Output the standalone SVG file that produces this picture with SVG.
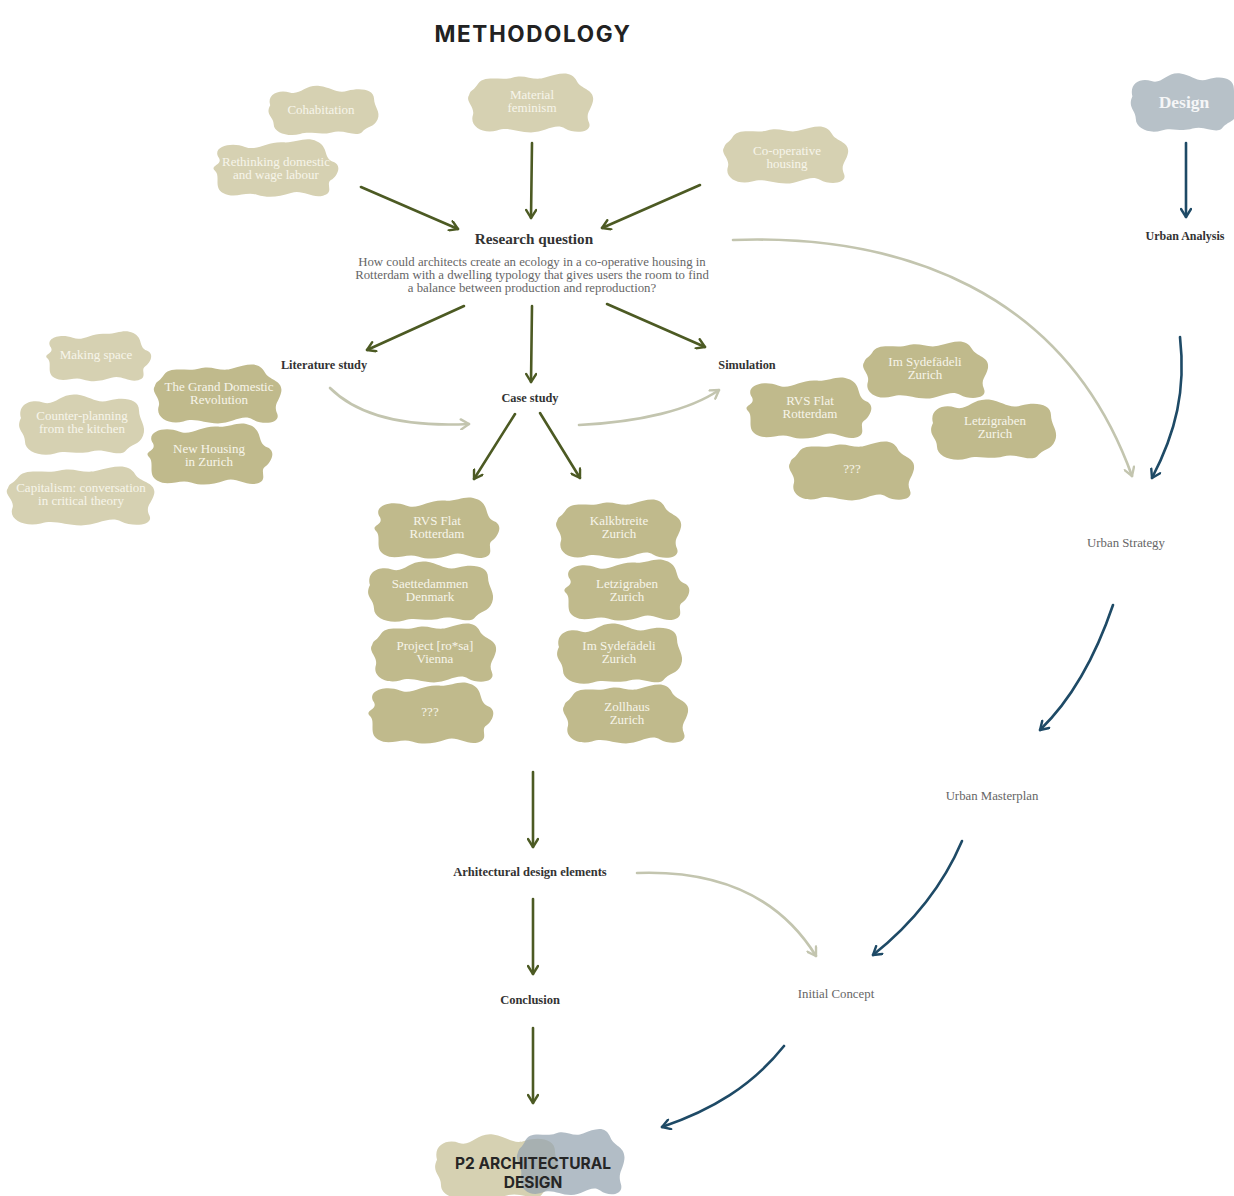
<svg xmlns="http://www.w3.org/2000/svg" xmlns:xlink="http://www.w3.org/1999/xlink" width="1234" height="1196" viewBox="0 0 1234 1196">
<style>
.light{fill:#d6d1b2}
.dark{fill:#c0ba8c}
.ct{font-family:"Liberation Serif","DejaVu Serif",serif;font-size:13px;fill:#f7f5ea;text-anchor:middle}
.lbl{font-family:"Liberation Serif","DejaVu Serif",serif;font-weight:bold;fill:#333;text-anchor:middle}
.reg{font-family:"Liberation Serif","DejaVu Serif",serif;font-size:12.8px;fill:#666;text-anchor:middle}
.olive{fill:none;stroke:#4c5a23;stroke-width:2.6;stroke-linecap:round;marker-end:url(#mOlive)}
.pale{fill:none;stroke:#c3c5af;stroke-width:2.6;stroke-linecap:round;marker-end:url(#mPale)}
.blue{fill:none;stroke:#1e4a66;stroke-width:2.6;stroke-linecap:round;marker-end:url(#mBlue)}
</style>
<defs>
<marker id="mOlive" viewBox="0 0 12 12" refX="10" refY="6" markerWidth="12" markerHeight="12" markerUnits="userSpaceOnUse" orient="auto"><path d="M2,1 L10,6 L2,11" fill="none" stroke="#4c5a23" stroke-width="2.4" stroke-linecap="round" stroke-linejoin="round"/></marker>
<marker id="mPale" viewBox="0 0 12 12" refX="10" refY="6" markerWidth="12" markerHeight="12" markerUnits="userSpaceOnUse" orient="auto"><path d="M2,1 L10,6 L2,11" fill="none" stroke="#c3c5af" stroke-width="2.4" stroke-linecap="round" stroke-linejoin="round"/></marker>
<marker id="mBlue" viewBox="0 0 12 12" refX="10" refY="6" markerWidth="12" markerHeight="12" markerUnits="userSpaceOnUse" orient="auto"><path d="M2,1 L10,6 L2,11" fill="none" stroke="#1e4a66" stroke-width="2.4" stroke-linecap="round" stroke-linejoin="round"/></marker>
<path id="blobA" d="M-56,-12 C-64,-24 -44,-30 -30,-24 C-18,-19 -8,-30 8,-29 C22,-28 30,-36 42,-30 C54,-24 48,-12 58,-8 C68,-4 62,8 56,12 C50,16 60,26 48,29 C36,32 28,22 16,26 C4,30 -6,32 -18,28 C-30,24 -40,33 -52,26 C-62,20 -54,8 -60,2 C-66,-4 -52,-4 -56,-12 Z"/>
<path id="blobB" d="M-60,-6 C-64,-20 -50,-26 -38,-22 C-26,-18 -20,-32 -4,-30 C10,-28 16,-20 28,-24 C42,-28 58,-26 58,-14 C58,-4 66,2 62,12 C58,22 50,20 44,28 C36,34 24,24 10,28 C-4,32 -14,26 -26,30 C-40,34 -56,28 -56,18 C-56,8 -66,6 -60,-6 Z"/>
<path id="blobC" d="M-54,-18 C-48,-30 -30,-22 -18,-26 C-6,-30 2,-22 14,-26 C28,-30 40,-34 46,-22 C50,-14 64,-14 62,-2 C60,8 54,10 58,20 C62,30 44,32 34,26 C24,20 14,30 0,30 C-14,30 -22,24 -34,28 C-48,32 -62,24 -58,12 C-56,4 -66,-2 -62,-8 C-60,-14 -58,-12 -54,-18 Z"/>
</defs>
<rect width="1234" height="1196" fill="#ffffff"/>

<text id="title" x="533" y="42" font-family="Inter,'Open Sans',sans-serif" font-weight="700" font-size="22.5" letter-spacing="1.6" fill="#222" text-anchor="middle">METHODOLOGY</text>

<g id="connectors">
<path class="olive" d="M361,187 L458,229"/>
<path class="olive" d="M532,143 L531,218"/>
<path class="olive" d="M700,185 L602,228"/>
<path class="blue" d="M1186,143 L1186,217"/>
<path class="pale" d="M733,240 C900,234 1065,290 1132,476"/>
<path class="olive" d="M464,306 L367,350"/>
<path class="olive" d="M532,306 L531,382"/>
<path class="olive" d="M607,304 L705,347"/>
<path class="pale" d="M330,388 C360,418 410,427 469,424"/>
<path class="pale" d="M579,425 C640,422 690,410 719,390"/>
<path class="olive" d="M515,414 L474,479"/>
<path class="olive" d="M540,413 L580,478"/>
<path class="blue" d="M1180,337 C1186,390 1176,432 1152,478"/>
<path class="blue" d="M1113,605 C1096,655 1074,697 1040,730"/>
<path class="blue" d="M962,841 C942,888 912,924 873,955"/>
<path class="olive" d="M533,772 L533,847"/>
<path class="olive" d="M533,899 L533,974"/>
<path class="olive" d="M533,1028 L533,1103"/>
<path class="pale" d="M637,873 C720,870 780,898 816,956"/>
<path class="blue" d="M784,1046 C752,1086 712,1110 662,1127"/>
</g>

<g id="cohabitation"><use xlink:href="#blobB" class="light" transform="translate(323,110) scale(0.88,0.8)"/><text class="ct" x="321" y="114">Cohabitation</text></g>
<g id="rethinking"><use xlink:href="#blobA" class="light" transform="translate(275,169) scale(1,0.92)"/><text class="ct" x="276" y="165.5">Rethinking domestic</text><text class="ct" x="276" y="178.5">and wage labour</text></g>
<g id="material-feminism"><use xlink:href="#blobC" class="light" transform="translate(531,103) scale(1,0.98)"/><text class="ct" x="532" y="98.5">Material</text><text class="ct" x="532" y="111.5">feminism</text></g>
<g id="cooperative-housing"><use xlink:href="#blobC" class="light" transform="translate(786,155) scale(1,0.95)"/><text class="ct" x="787" y="155">Co-operative</text><text class="ct" x="787" y="168">housing</text></g>
<g id="design"><use xlink:href="#blobB" fill="#b7c1c8" transform="translate(1184,102) scale(0.86,0.95)"/><text x="1184" y="108" font-family="'Liberation Serif','DejaVu Serif',serif" font-size="17.5" font-weight="bold" fill="#f5f6f7" text-anchor="middle">Design</text></g>

<g id="research-question"><text class="lbl" x="534" y="244" font-size="15.2">Research question</text>
<text class="reg" font-size="13.5" fill="#555"><tspan x="532" y="266">How could architects create an ecology in a co-operative housing in</tspan><tspan x="532" y="279">Rotterdam with a dwelling typology that gives users the room to find</tspan><tspan x="532" y="292">a balance between production and reproduction?</tspan></text></g>
<g id="urban-analysis"><text class="lbl" x="1185" y="240" font-size="12">Urban Analysis</text></g>

<g id="literature-study"><text class="lbl" x="324" y="369" font-size="12.3">Literature study</text></g>
<g id="case-study"><text class="lbl" x="530" y="402" font-size="12.3">Case study</text></g>
<g id="simulation"><text class="lbl" x="747" y="369" font-size="12.3">Simulation</text></g>

<g id="making-space"><use xlink:href="#blobA" class="light" transform="translate(98,357) scale(0.84,0.8)"/><text class="ct" x="96" y="359">Making space</text></g>
<g id="grand-domestic"><use xlink:href="#blobC" class="dark" transform="translate(218,394) scale(1.02,0.98)"/><text class="ct" x="219" y="390.5">The Grand Domestic</text><text class="ct" x="219" y="403.5">Revolution</text></g>
<g id="counter-planning"><use xlink:href="#blobB" class="light" transform="translate(81,424) scale(1,0.98)"/><text class="ct" x="82" y="420">Counter-planning</text><text class="ct" x="82" y="433">from the kitchen</text></g>
<g id="new-housing"><use xlink:href="#blobA" class="dark" transform="translate(209,455) scale(1,0.98)"/><text class="ct" x="209" y="452.5">New Housing</text><text class="ct" x="209" y="465.5">in Zurich</text></g>
<g id="capitalism"><use xlink:href="#blobC" class="light" transform="translate(81,496) scale(1.18,0.98)"/><text class="ct" x="81" y="491.5">Capitalism: conversation</text><text class="ct" x="81" y="504.5">in critical theory</text></g>

<g id="sim-sydefadeli"><use xlink:href="#blobC" class="dark" transform="translate(926,370) scale(1,0.95)"/><text class="ct" x="925" y="366">Im Sydefädeli</text><text class="ct" x="925" y="379">Zurich</text></g>
<g id="sim-rvs"><use xlink:href="#blobA" class="dark" transform="translate(808,409) scale(1,0.98)"/><text class="ct" x="810" y="404.5">RVS Flat</text><text class="ct" x="810" y="417.5">Rotterdam</text></g>
<g id="sim-letzigraben"><use xlink:href="#blobB" class="dark" transform="translate(993,429) scale(1,0.98)"/><text class="ct" x="995" y="425">Letzigraben</text><text class="ct" x="995" y="438">Zurich</text></g>
<g id="sim-unknown"><use xlink:href="#blobC" class="dark" transform="translate(852,471) scale(1,0.98)"/><text class="ct" x="852" y="473">???</text></g>

<g id="cs-rvs"><use xlink:href="#blobA" class="dark" transform="translate(436,529) scale(1,0.98)"/><text class="ct" x="437" y="525">RVS Flat</text><text class="ct" x="437" y="538">Rotterdam</text></g>
<g id="cs-saettedammen"><use xlink:href="#blobB" class="dark" transform="translate(430,591) scale(1,0.98)"/><text class="ct" x="430" y="588">Saettedammen</text><text class="ct" x="430" y="601">Denmark</text></g>
<g id="cs-rosa"><use xlink:href="#blobC" class="dark" transform="translate(434,653) scale(1,0.98)"/><text class="ct" x="435" y="650">Project [ro*sa]</text><text class="ct" x="435" y="663">Vienna</text></g>
<g id="cs-unknown"><use xlink:href="#blobA" class="dark" transform="translate(430,714) scale(1,0.98)"/><text class="ct" x="430" y="716">???</text></g>
<g id="cs-kalkbreite"><use xlink:href="#blobC" class="dark" transform="translate(619,529) scale(1,0.98)"/><text class="ct" x="619" y="525">Kalkbtreite</text><text class="ct" x="619" y="538">Zurich</text></g>
<g id="cs-letzigraben"><use xlink:href="#blobA" class="dark" transform="translate(626,591) scale(1,0.98)"/><text class="ct" x="627" y="588">Letzigraben</text><text class="ct" x="627" y="601">Zurich</text></g>
<g id="cs-sydefadeli"><use xlink:href="#blobB" class="dark" transform="translate(619,653) scale(1,0.98)"/><text class="ct" x="619" y="650">Im Sydefädeli</text><text class="ct" x="619" y="663">Zurich</text></g>
<g id="cs-zollhaus"><use xlink:href="#blobC" class="dark" transform="translate(626,714) scale(1,0.98)"/><text class="ct" x="627" y="711">Zollhaus</text><text class="ct" x="627" y="724">Zurich</text></g>

<g id="urban-strategy"><text class="reg" x="1126" y="547">Urban Strategy</text></g>
<g id="urban-masterplan"><text class="reg" x="992" y="800">Urban Masterplan</text></g>
<g id="design-elements"><text class="lbl" x="530" y="876" font-size="12.5">Arhitectural design elements</text></g>
<g id="conclusion"><text class="lbl" x="530" y="1004" font-size="12.5">Conclusion</text></g>
<g id="initial-concept"><text class="reg" x="836" y="998">Initial Concept</text></g>

<g id="p2-design">
<use xlink:href="#blobB" class="light" transform="translate(497,1166) scale(1,1.05)"/>
<use xlink:href="#blobC" fill="#94a4b0" fill-opacity="0.72" transform="translate(571,1162) scale(0.86,1.1)"/>
<text x="533" y="1169" font-family="Inter,'Open Sans',sans-serif" font-weight="700" font-size="15.5" fill="#262626" text-anchor="middle">P2 ARCHITECTURAL</text>
<text x="533" y="1188" font-family="Inter,'Open Sans',sans-serif" font-weight="700" font-size="15.5" fill="#262626" text-anchor="middle">DESIGN</text>
</g>
</svg>
